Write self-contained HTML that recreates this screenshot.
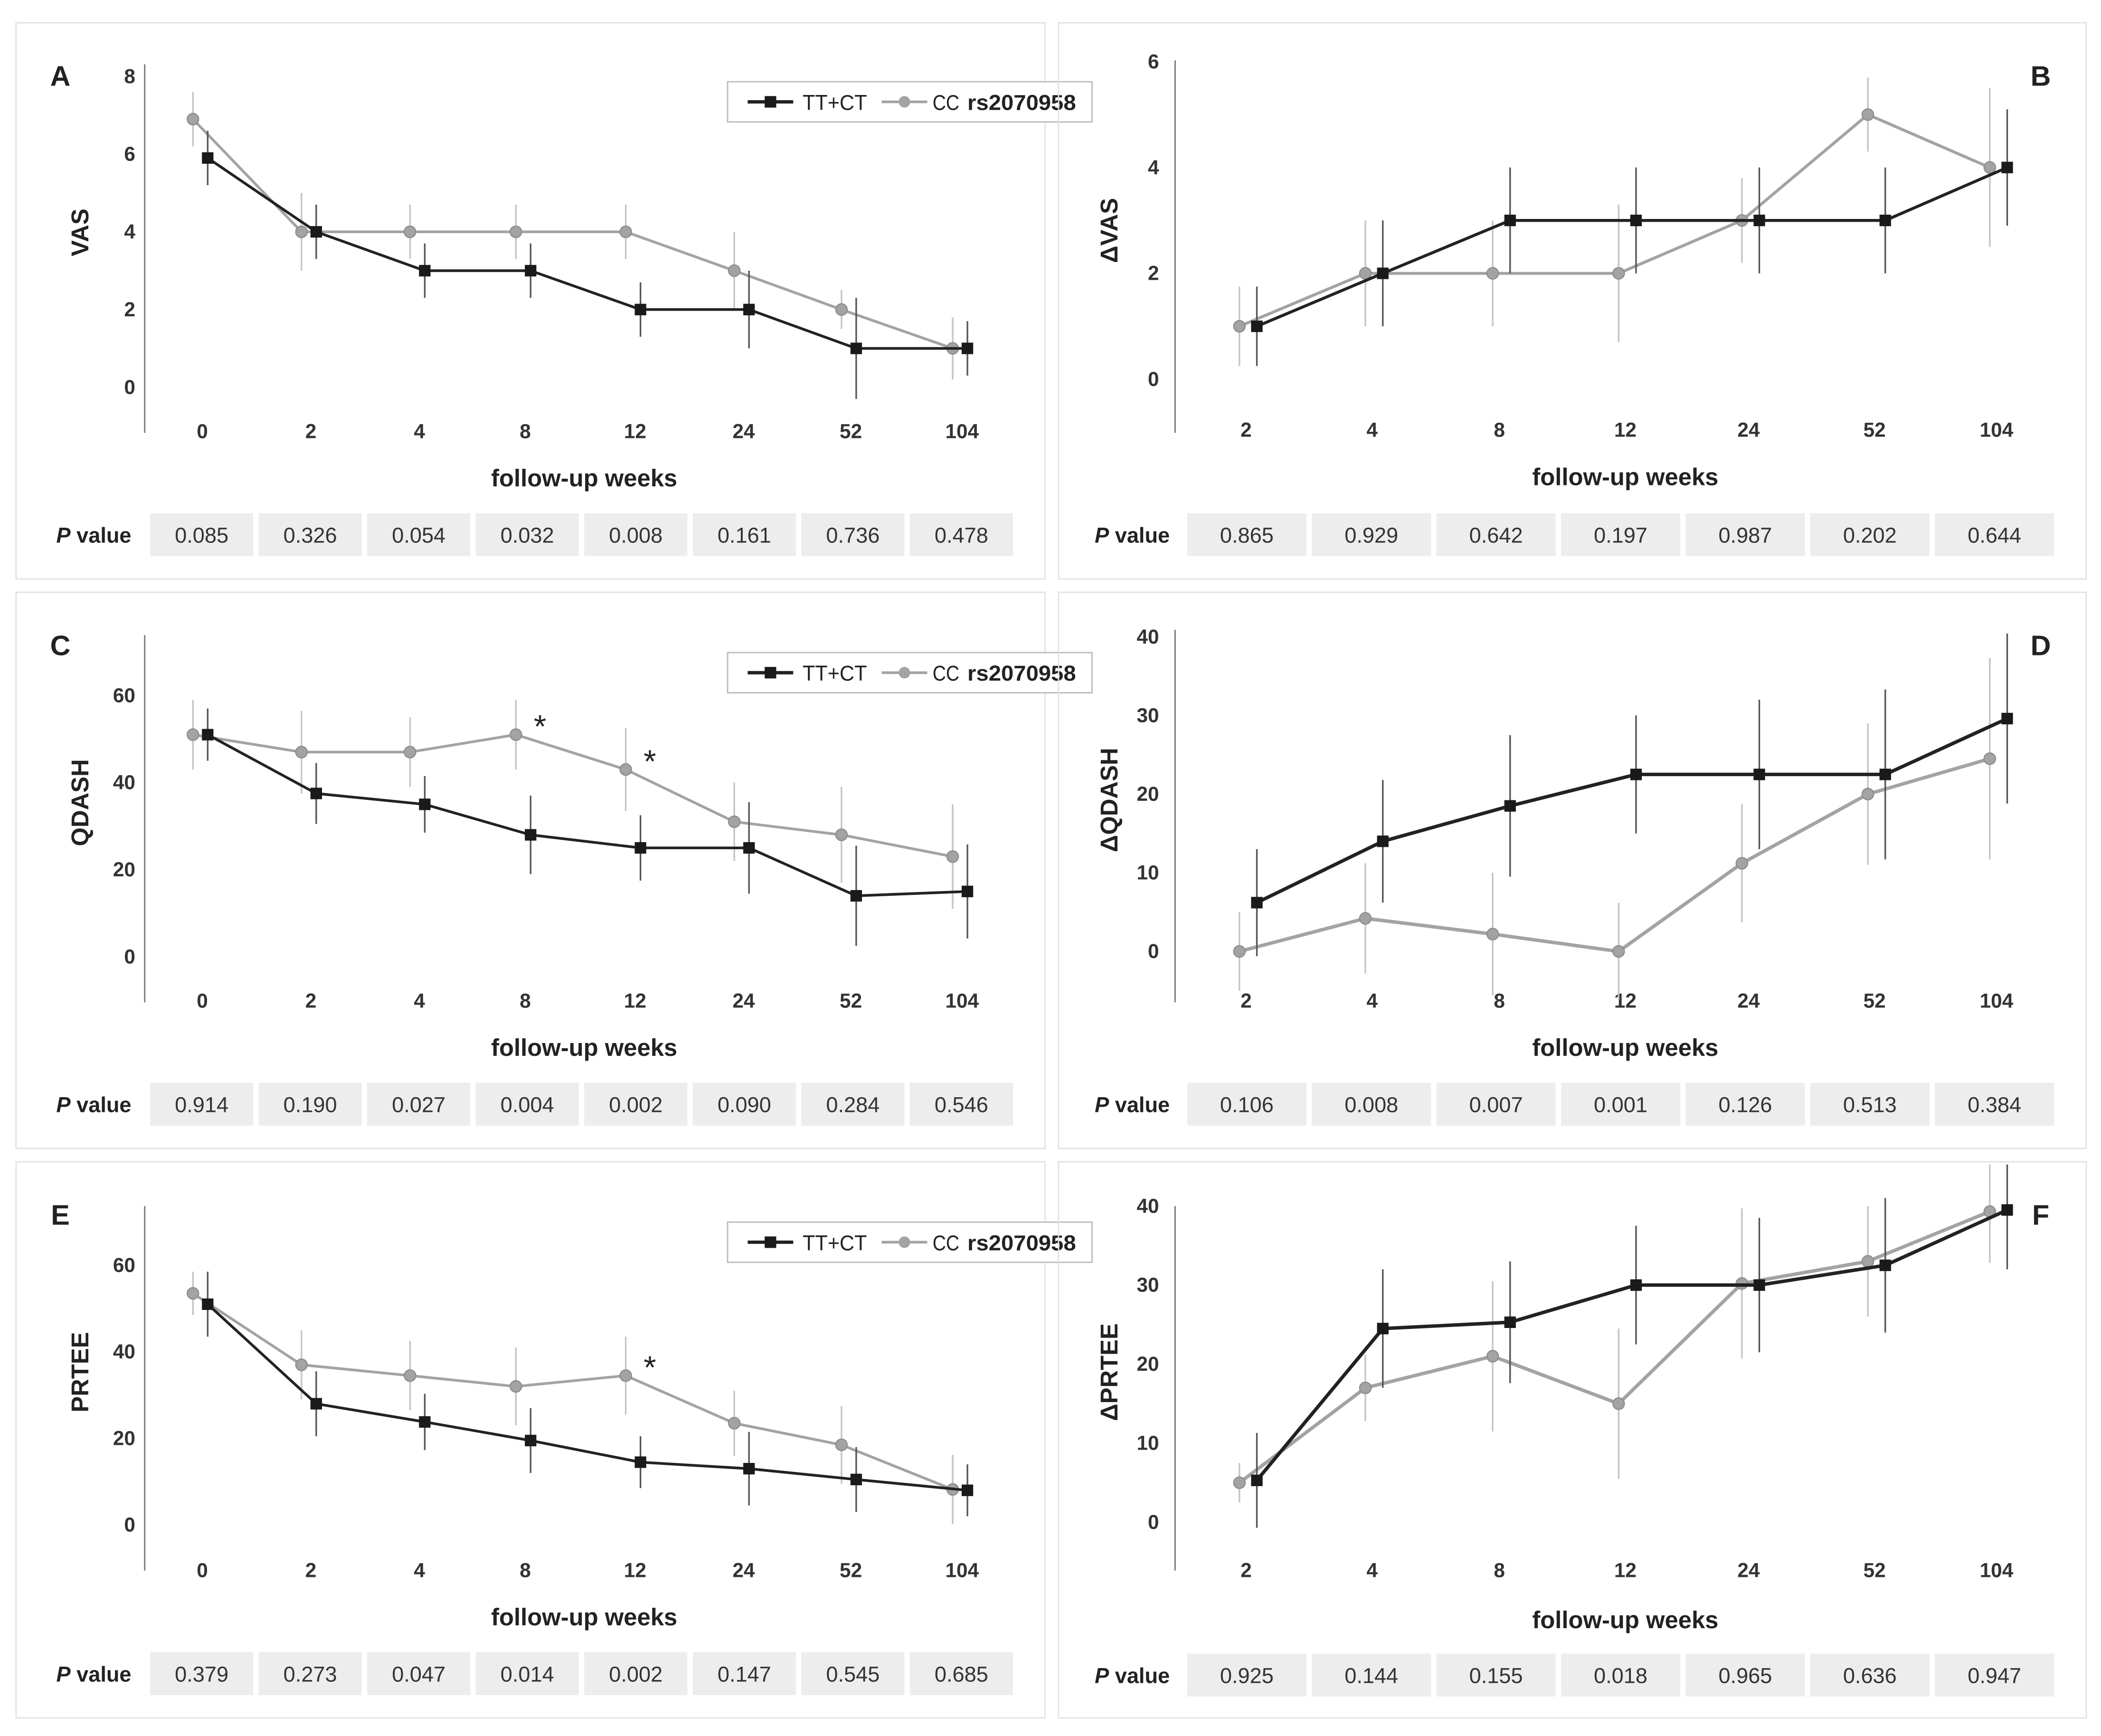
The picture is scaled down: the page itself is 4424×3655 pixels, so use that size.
<!DOCTYPE html>
<html><head><meta charset="utf-8">
<style>
html,body{margin:0;padding:0;background:#fff;}
svg{display:block;font-family:"Liberation Sans",Arial,sans-serif;background:#fff;}
</style></head>
<body>
<svg id="fig" width="4424" height="3655" viewBox="0 0 1568 1295.5" preserveAspectRatio="none" xmlns="http://www.w3.org/2000/svg"></svg>
<script>
// ---- data ----
const weeksLeft = ["0","2","4","8","12","24","52","104"];
const weeksRight = ["2","4","8","12","24","52","104"];

const vasBlack = [5.9,4,3,3,2,2,1,1];
const vasBlackErr = [0.7,0.7,0.7,0.7,0.7,1,1.3,0.7];
const vasGrey = [6.9,4,4,4,4,3,2,1];
const vasGreyErr = [0.7,1,0.7,0.7,0.7,1,0.5,0.8];
const vasTicks = [0,2,4,6,8];
const vasP = ["0.085","0.326","0.054","0.032","0.008","0.161","0.736","0.478"];

const dvasBlack = [1,2,3,3,3,3,4];
const dvasBlackErr = [0.75,1,1,1,1,1,1.1];
const dvasGrey = [1,2,2,2,3,5,4];
const dvasGreyErr = [0.75,1,1,1.3,0.8,0.7,1.5];
const dvasTicks = [0,2,4,6];
const dvasP = ["0.865","0.929","0.642","0.197","0.987","0.202","0.644"];

const qdashBlack = [51,37.5,35,28,25,25,14,15];
const qdashBlackErr = [6,7,6.5,9,7.5,10.5,11.5,10.8];
const qdashGrey = [51,47,47,51,43,31,28,23];
const qdashGreyErr = [8,9.5,8,8,9.5,9,11,12];
const qdashTicks = [0,20,40,60];
const qdashP = ["0.914","0.190","0.027","0.004","0.002","0.090","0.284","0.546"];
const qdashStars = [3,4];

const dqBlack = [6.2,14,18.5,22.5,22.5,22.5,29.6];
const dqBlackErr = [6.8,7.8,9,7.5,9.5,10.8,10.8];
const dqGrey = [0,4.2,2.2,0,11.2,20,24.5];
const dqGreyErr = [5,7,7.8,6.2,7.5,9,12.8];
const dqTicks = [0,10,20,30,40];
const dqP = ["0.106","0.008","0.007","0.001","0.126","0.513","0.384"];

const prteeBlack = [51,28,23.8,19.5,14.5,13,10.5,8];
const prteeBlackErr = [7.5,7.5,6.5,7.5,6,8.5,7.5,6];
const prteeGrey = [53.5,37,34.5,32,34.5,23.5,18.5,8.2];
const prteeGreyErr = [5,8,8,9,9,7.5,9,8];
const prteeTicks = [0,20,40,60];
const prteeP = ["0.379","0.273","0.047","0.014","0.002","0.147","0.545","0.685"];
const prteeStars = [4];

const dpBlack = [5.3,24.5,25.3,30,30,32.5,39.5];
const dpBlackErr = [6,7.5,7.7,7.5,8.5,8.5,7.5];
const dpGrey = [5,17,21,15,30.2,33,39.3];
const dpGreyErr = [2.5,4.2,9.5,9.5,9.5,7,6.5];
const dpTicks = [0,10,20,30,40];
const dpP = ["0.925","0.144","0.155","0.018","0.965","0.636","0.947"];

// ---- drawing ----
const NS="http://www.w3.org/2000/svg";
const svg=document.getElementById('fig');
function mk(tag,attrs,parent,text){const e=document.createElementNS(NS,tag);for(const k in attrs)e.setAttribute(k,attrs[k]);if(text!==undefined)e.textContent=text;(parent||svg).appendChild(e);return e;}

function panel(p){
  const g=mk('g',{});
  
  
  const box=mk('rect',{x:p.bx,y:p.by,width:p.bw,height:415,fill:'none',stroke:'#e2e2e2','stroke-width':1},g);
  
  
  const yOf=v=>p.y0-(v-p.tmin)*p.ppu;
  const ax=mk('line',{x1:p.ax,x2:p.ax,y1:p.axTop,y2:p.axBot,stroke:'#777','stroke-width':1},g);
  
  
  p.ticks.forEach(t=>{
    const tl=mk('text',{x:p.right?p.ax-12:p.ax-7,y:yOf(t)+5,'text-anchor':'end','font-size':15,'font-weight':'bold',fill:'#333'},g,String(t));
    
    
  });
  const ty=mk('text',{x:0,y:0,'text-anchor':'middle','font-size':18,'font-weight':'bold',fill:'#222',transform:`translate(${p.titleX},${(p.axTop+p.axBot)/2-12}) rotate(-90)`},g,p.title);
  
  
  const lt=mk('text',{x:p.letterX,y:p.by+47,'text-anchor':'middle','font-size':21,'font-weight':'bold',fill:'#222'},g,p.letter);
  
  
  p.cats.forEach((c,i)=>{
    const xl=mk('text',{x:p.xs[i],y:p.xLabY,'text-anchor':'middle','font-size':15,'font-weight':'bold',fill:'#333'},g,c);
    
    
  });
  const xt=mk('text',{x:p.xTitleX,y:p.xLabY+36+(p.letter==='F'?2:0),'text-anchor':'middle','font-size':18,'font-weight':'bold',fill:'#222'},g,'follow-up weeks');
  
  
  const pl=mk('text',{x:p.pLabX,y:p.pY+6,'text-anchor':'middle','font-size':16,'font-weight':'bold',fill:'#222'},g);
  
  
  mk('tspan',{'font-style':'italic'},pl,'P');
  mk('tspan',{},pl,' value');
  p.pvals.forEach((v,i)=>{
    const cx=p.pX0+i*p.pStep;
    const r=mk('rect',{x:cx,y:p.pY-16,width:p.pStep-4,height:32,fill:'#ededed'},g);
    
    
    const t=mk('text',{x:cx+(p.pStep-4)/2,y:p.pY+6,'text-anchor':'middle','font-size':16,fill:'#333'},g,v);
    
    
  });
  const series=[
    {vals:p.grey,err:p.greyErr,off:p.gOff,line:'#a3a3a3',errc:'#c4c4c4',mark:'circle',name:'cc'},
    {vals:p.black,err:p.blackErr,off:p.bOff,line:'#222',errc:'#555',mark:'square',name:'tt-ct'}
  ];
  series.forEach(s=>{
    s.vals.forEach((v,i)=>{
      const x=p.xs[i]+s.off;
      let top=yOf(v+s.err[i]); if(top<p.by+2) top=p.by+2;
      const e=mk('line',{x1:x,x2:x,y1:top,y2:yOf(v-s.err[i]),stroke:s.errc,'stroke-width':1.2},g);
      
      
    });
    const pts=s.vals.map((v,i)=>(p.xs[i]+s.off)+','+yOf(v)).join(' ');
    const pl2=mk('polyline',{points:pts,fill:'none',stroke:s.line,'stroke-width':p.lw},g);
    
    
    s.vals.forEach((v,i)=>{
      const x=p.xs[i]+s.off,y=yOf(v);
      let m;
      if(s.mark==='circle') m=mk('circle',{cx:x,cy:y,r:4.3,fill:'#a3a3a3',stroke:'#8a8a8a','stroke-width':0.8},g);
      else m=mk('rect',{x:x-4.3,y:y-4.3,width:8.6,height:8.6,fill:'#1a1a1a'},g);
      
      
    });
  });
  (p.stars||[]).forEach(i=>{
    const st=mk('text',{x:p.xs[i]+p.gOff+18,y:yOf(p.grey[i])+2,'text-anchor':'middle','font-size':24,fill:'#222'},g,'*');
    
    
  });
  if(p.legendY){
    const lg=mk('g',{},g);
    
    
    const ly=p.legendY;
    mk('rect',{x:543,y:ly-15,width:272,height:30,fill:'#fff',stroke:'#bbb','stroke-width':1},lg);
    mk('line',{x1:558,x2:592,y1:ly,y2:ly,stroke:'#222','stroke-width':2.5},lg);
    mk('rect',{x:570.7,y:ly-4.3,width:8.6,height:8.6,fill:'#1a1a1a'},lg);
    const t1=mk('text',{x:599,y:ly+6,'font-size':16,fill:'#222',textLength:48,lengthAdjust:'spacingAndGlyphs'},lg,'TT+CT');
    
    
    mk('line',{x1:658,x2:692,y1:ly,y2:ly,stroke:'#a3a3a3','stroke-width':2},lg);
    mk('circle',{cx:675,cy:ly,r:4.3,fill:'#a3a3a3'},lg);
    const t2=mk('text',{x:696,y:ly+6,'font-size':16,fill:'#222',textLength:20,lengthAdjust:'spacingAndGlyphs'},lg,'CC');
    
    
    const t3=mk('text',{x:722,y:ly+6,'font-size':16,'font-weight':'bold',fill:'#222',textLength:81,lengthAdjust:'spacingAndGlyphs'},lg,'rs2070958');
    
    
  }
}

const xsL=[151,232,313,392,474,555,635,718];
const xsR=[930,1024,1119,1213,1305,1399,1490];
const L={bx:12,bw:768,ax:108,titleX:66,letterX:45,xs:xsL,cats:weeksLeft,xTitleX:436,pLabX:70,pX0:112,pStep:81,bOff:4,gOff:-7,lw:2,right:false};
const R={bx:790,bw:767,ax:877,titleX:834,letterX:1523,xs:xsR,cats:weeksRight,xTitleX:1213,pLabX:845,pX0:886,pStep:93,bOff:8,gOff:-5,lw:2.2,right:true};

panel(Object.assign({},L,{letter:'A',by:17,title:'VAS',y0:289,tmin:0,ppu:29,ticks:vasTicks,axTop:48,axBot:323,xLabY:327,pY:399,pvals:vasP,black:vasBlack,blackErr:vasBlackErr,grey:vasGrey,greyErr:vasGreyErr,legendY:76}));
panel(Object.assign({},R,{letter:'B',by:17,title:'ΔVAS',y0:283,tmin:0,ppu:39.5,ticks:dvasTicks,axTop:45,axBot:323,xLabY:326,pY:399,pvals:dvasP,black:dvasBlack,blackErr:dvasBlackErr,grey:dvasGrey,greyErr:dvasGreyErr}));
panel(Object.assign({},L,{letter:'C',by:442,title:'QDASH',y0:714,tmin:0,ppu:3.25,ticks:qdashTicks,axTop:474,axBot:748,xLabY:752,pY:824,pvals:qdashP,black:qdashBlack,blackErr:qdashBlackErr,grey:qdashGrey,greyErr:qdashGreyErr,legendY:502,stars:qdashStars}));
panel(Object.assign({},R,{letter:'D',by:442,title:'ΔQDASH',y0:710,tmin:0,ppu:5.87,ticks:dqTicks,axTop:470,axBot:748,xLabY:752,pY:824,pvals:dqP,black:dqBlack,blackErr:dqBlackErr,grey:dqGrey,greyErr:dqGreyErr,lw:2.6}));
panel(Object.assign({},L,{letter:'E',by:867,title:'PRTEE',y0:1138,tmin:0,ppu:3.23,ticks:prteeTicks,axTop:900,axBot:1172,xLabY:1177,pY:1249,pvals:prteeP,black:prteeBlack,blackErr:prteeBlackErr,grey:prteeGrey,greyErr:prteeGreyErr,legendY:927,stars:prteeStars}));
panel(Object.assign({},R,{letter:'F',by:867,title:'ΔPRTEE',y0:1136,tmin:0,ppu:5.9,ticks:dpTicks,axTop:900,axBot:1172,xLabY:1177,pY:1250,pvals:dpP,black:dpBlack,blackErr:dpBlackErr,grey:dpGrey,greyErr:dpGreyErr,lw:2.6}));
</script>
</body></html>
